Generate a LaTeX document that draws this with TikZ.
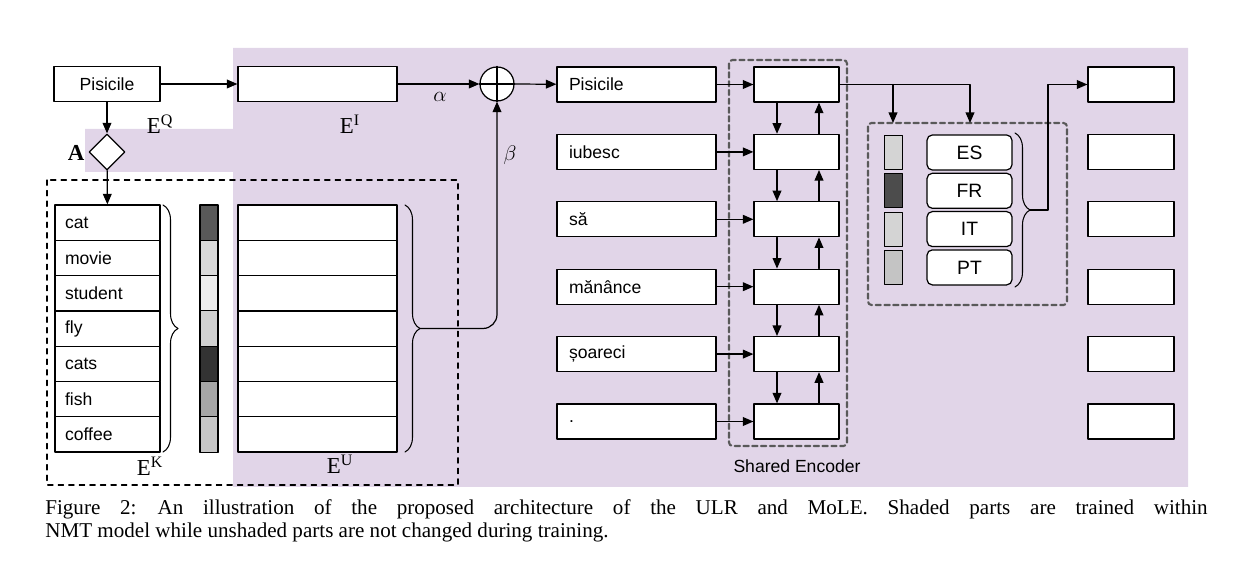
\documentclass[tikz,border=0pt]{standalone}
\usepackage{fontspec}
\setmainfont{Liberation Serif}
\newfontfamily\sansfam{Liberation Sans}
\usetikzlibrary{arrows.meta,shapes.geometric,decorations.pathreplacing}
\definecolor{lilac}{RGB}{225,213,232}
\tikzset{
  box/.style={draw,fill=white,line width=0.7pt,minimum height=0.7cm,inner sep=0pt,font=\sansfam\fontsize{10}{12}\selectfont},
  wbox/.style={box,minimum width=3.18cm,text width=2.7cm,align=left},
  cell/.style={draw,line width=0.6pt,minimum width=0.36cm,inner sep=0pt},
  lang/.style={box,rounded corners=3pt,minimum width=1.7cm,minimum height=0.7cm,font=\sansfam\fontsize{11}{12}\selectfont},
  brc/.style={decorate,decoration={brace,amplitude=0.3cm},line width=0.6pt},
  lbl/.style={font=\fontsize{13}{15}\selectfont}
}
\begin{document}
\begin{tikzpicture}[line cap=round,line join=round,>={Triangle[length=6pt,width=5pt]},x=0.02cm,y=-0.02cm]
\useasboundingbox (0,0) rectangle (1255,587);

% shaded region
\fill [lilac] (233,48) -- (1188,48) -- (1188,487) -- (233,487) -- (233,172) -- (85,172) -- (85,129) -- (233,129) -- cycle;
\draw [dashed,line width=0.7pt] (47,180) rectangle (458,485);

% query side
\node [box,minimum width=2.12cm] (q) at (107,84) {Pisicile};
\node [box,minimum width=3.18cm] (ei) at (317.5,84) {};
\node [draw,circle,fill=white,line width=0.7pt,minimum size=0.68cm,inner sep=0pt] (plus) at (497,84) {};
\draw [line width=0.6pt] (plus.north) -- (plus.south) (plus.west) -- (plus.east);
\node [draw,diamond,fill=white,line width=0.7pt,minimum size=0.72cm,inner sep=0pt] (att) at (107,152) {};
\node [lbl] at (76,153) {$\mathbf{A}$};
\node [lbl] at (160,124) {$\mathrm{E}^{\mathrm{Q}}$};
\node [lbl] at (350,124) {$\mathrm{E}^{\mathrm{I}}$};
\node [lbl] at (440,97) {$\alpha$};
\node [lbl] at (510,155) {$\beta$};

% universal tables
\foreach \w [count=\i] in {cat,movie,student,fly,cats,fish,coffee}{
  \node [box,minimum width=2.1cm,minimum height=0.706cm,text width=1.7cm,align=left] (k\i) at (107.5,{205+35.3*(\i-0.5)}) {\w};
  \node [box,minimum width=3.18cm,minimum height=0.706cm] (u\i) at (317.5,{205+35.3*(\i-0.5)}) {};
}
\foreach \g [count=\i] in {35,85,93,82,20,65,78}
  \node [cell,fill=black!\the\numexpr100-\g\relax,minimum height=0.706cm] (c\i) at (209,{205+35.3*(\i-0.5)}) {};
\draw [brc] (163,205) -- (163,452) coordinate[midway,xshift=0.3cm] (tipk);
\draw [brc] (405,205) -- (405,452) coordinate[midway,xshift=0.3cm] (tipu);
\node [lbl] at (150,466) {$\mathrm{E}^{\mathrm{K}}$};
\node [lbl] at (340,464) {$\mathrm{E}^{\mathrm{U}}$};

\draw [->,line width=0.7pt] (q) -- (ei);
\draw [->,line width=0.7pt] (ei) -- (plus);
\draw [->,line width=0.7pt] (q) -- (att);
\draw [->,line width=0.7pt] (att) -- (k1);
\draw [->,line width=0.7pt,rounded corners=8pt] (tipu) -| (plus);

% encoder
\draw [dashed,dash pattern=on 3pt off 2pt,gray!70!black,line width=1.2pt,rounded corners=2pt] (729,60) rectangle (847,446);
\node [font=\sansfam\fontsize{10}{12}\selectfont] at (797,466) {Shared Encoder};
\foreach \w [count=\i] in {Pisicile,iubesc,să,mănânce,șoareci,.}{
  \node [wbox] (s\i) at (636.5,{84.5+67.4*(\i-1)}) {\w};
  \node [box,minimum width=1.7cm] (e\i) at (796.5,{84.5+67.4*(\i-1)}) {};
  \node [box,minimum width=1.72cm] (o\i) at (1131,{84.5+67.4*(\i-1)}) {};
  \draw [->,line width=0.7pt] (s\i) -- (e\i);
}
\draw [->,line width=0.7pt] (plus) -- (s1);
\foreach \i [evaluate=\i as \j using int(\i+1)] in {1,...,5}{
  \draw [->,line width=0.7pt] ([xshift=-0.39cm]e\i.south) -- ([xshift=-0.39cm]e\j.north);
  \draw [->,line width=0.7pt] ([xshift=0.45cm]e\j.north) -- ([xshift=0.45cm]e\i.south);
}

% language experts
\draw [dashed,dash pattern=on 3pt off 2pt,gray!70!black,line width=1.2pt,rounded corners=2pt] (868,123) rectangle (1067,305);
\foreach \l/\g [count=\i] in {ES/83,FR/30,IT/83,PT/77}{
  \node [cell,fill=black!\the\numexpr100-\g\relax,minimum height=0.68cm] (m\i) at (893.5,{152.5+38.3*(\i-1)}) {};
  \node [lang] (l\i) at (969.5,{152.5+38.3*(\i-1)}) {\l};
}
\coordinate (gate) at (893,123);
\coordinate (expert) at (970,123);
\draw [->,line width=0.7pt] (e1.east) -| (expert);
\draw [->,line width=0.7pt] (gate |- e1.east) -- (gate);
\draw [brc] (1015,133) -- (1015,287) coordinate[midway,xshift=0.3cm] (tipl);
\draw [->,line width=0.7pt] (tipl) -- ++(18,0) |- (o1.west);

% caption
\node [anchor=north west,text width=23.25cm,align=justify,inner sep=0pt,font=\fontsize{12}{13}\selectfont] (cap) at (45,499)
  {Figure 2:\quad An illustration of the proposed architecture of the ULR and MoLE. Shaded parts are trained within\linebreak NMT model while unshaded parts are not changed during training.};
\end{tikzpicture}
\end{document}
